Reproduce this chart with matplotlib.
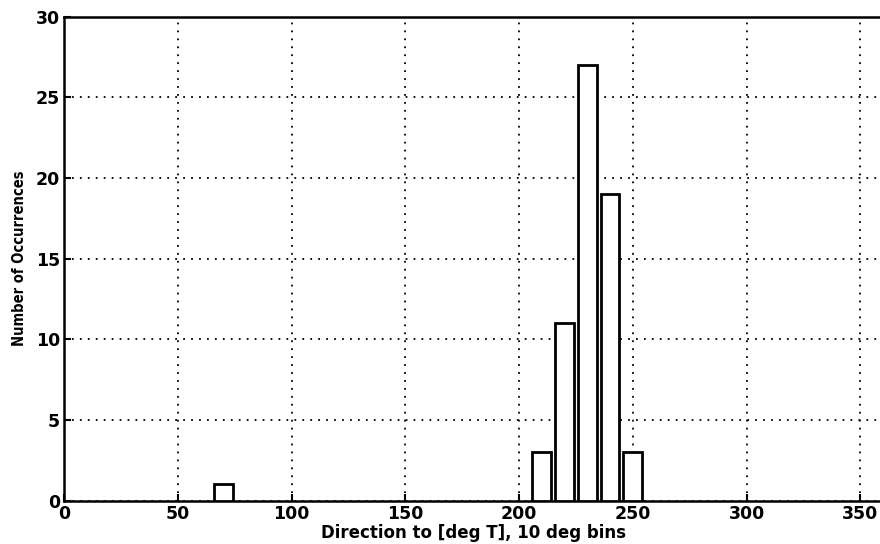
import matplotlib
matplotlib.use("Agg")
import matplotlib.pyplot as plt

# histogram of directions, 10 deg bins (bin centres and counts)
bin_centres = [70, 210, 220, 230, 240, 250]
counts = [1, 3, 11, 27, 19, 3]

x_ticks = [0, 50, 100, 150, 200, 250, 300, 350]
y_ticks = [0, 5, 10, 15, 20, 25, 30]

fig = plt.figure(figsize=(8.8, 5.44), dpi=100)
ax = fig.add_axes([64 / 880, 43.5 / 544, 819 / 880, 484 / 544])

ax.bar(bin_centres, counts, width=8.2, facecolor='white', edgecolor='black',
       linewidth=2.0, zorder=3)

ax.set_xlim(0, 360)
ax.set_ylim(0, 30)
ax.set_xticks(x_ticks)
ax.set_yticks(y_ticks)
ax.grid(True, color='black', linestyle=(0, (1, 3.4)), linewidth=1.3, zorder=1)
ax.tick_params(direction='in', length=5, width=1.5, labelsize=12.5, pad=3)
for lab in ax.get_xticklabels() + ax.get_yticklabels():
    lab.set_fontweight('bold')
for sp in ax.spines.values():
    sp.set_linewidth(1.8)

ax.set_xlabel('Direction to [deg T], 10 deg bins', fontsize=12, fontweight='bold',
              labelpad=1)
ax.set_ylabel('Number of Occurrences', fontsize=10.5, fontweight='bold',
              fontstretch='condensed', labelpad=6)

fig.savefig('out.png', dpi=100)
